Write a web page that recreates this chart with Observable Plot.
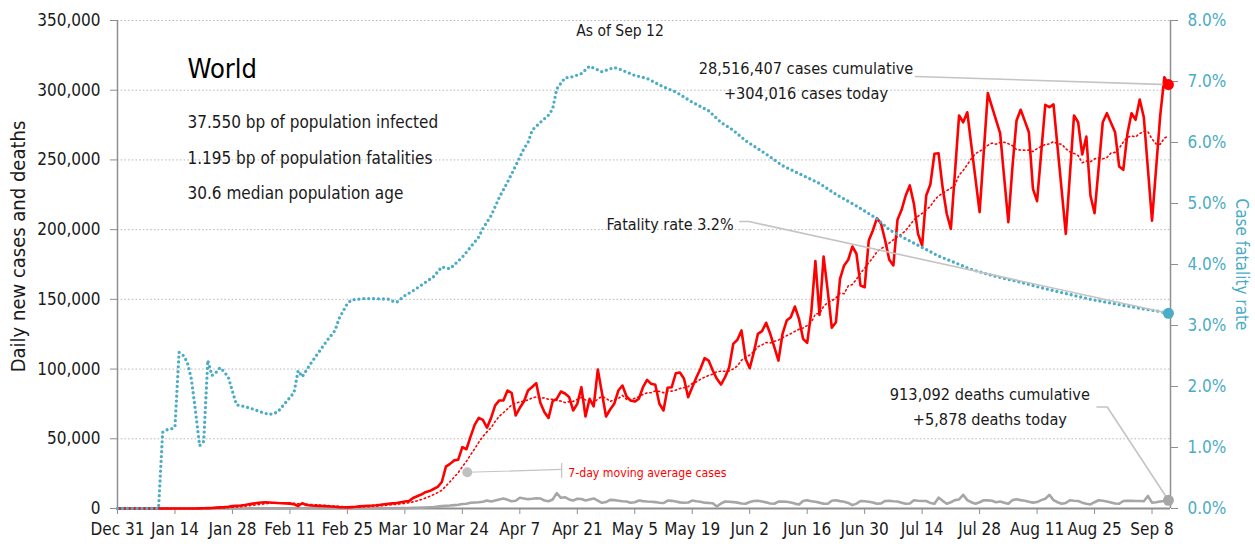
<!DOCTYPE html>
<html><head><meta charset="utf-8">
<script src="https://cdn.jsdelivr.net/npm/d3@7"></script>
<script src="https://cdn.jsdelivr.net/npm/@observablehq/plot@0.6"></script>
<style>
body{margin:0;background:#fff;}
#chart svg{display:block;font-family:"DejaVu Sans Condensed","DejaVu Sans",sans-serif;font-stretch:condensed;}
</style></head><body><div id="chart"></div>
<script>
// ---- data (day 0 = 2019-12-31) ----
const startDate = "2019-12-31";
const dailyCases = [
  0,0,0,0,0,0,0,0,0,0,                                        // d0-9
  0,0,0,0,0,0,0,0,0,50,                                       // d10-19
  80,150,270,400,600,800,1000,1300,1700,2000,                 // d20-29
  2200,2500,3000,3500,3900,4300,4500,4300,4100,3900,          // d30-39
  3800,3700,3500,3000,1800,3800,2500,2200,2000,1900,          // d40-49
  1800,1600,1400,1200,1000,900,800,1000,1200,1500,            // d50-59
  1800,2000,2100,2300,2600,3000,3400,3700,4000,4500,          // d60-69
  5000,5300,7500,8800,10000,11700,12500,14000,15500,19000,    // d70-79
  30000,32000,34500,35000,44000,42500,51600,60000,65000,63500,// d80-89
  58000,65000,74000,77500,77500,84600,83000,66700,72200,76700,// d90-99
  84600,87200,89900,75800,69100,65000,77000,78700,83900,82500,// d100-109
  80000,70300,75000,87000,66000,78700,73200,99700,83000,66000,// d110-119
  71000,75100,84600,88200,80300,77500,76700,78700,87000,92300,// d120-129
  89400,88700,75100,70300,86600,87000,97000,97500,93000,79800,// d130-139
  87000,94000,100200,107800,106100,99000,93000,88900,94200,101300, // d140-149
  118100,121000,127700,107400,100600,112100,125300,127200,133200,125300, // d150-159
  115700,106100,125300,134800,137200,144900,136000,121700,118800,140800, // d160-169
  177400,138900,180700,156300,129600,133600,164700,174300,178400,187900, // d170-179
  182700,159900,158700,192200,199400,208200,204200,192200,178400,174300, // d180-189
  207100,214200,224500,231700,218500,197000,188600,224500,232400,254400, // d190-199
  254800,230000,211400,200600,241000,281900,277000,284200,260300,236400, // d200-209
  212500,255000,297900,288300,278700,269200,237000,205300,245000,278300, // d210-219
  286000,278000,269900,229300,220400,255000,289500,287800,289800,258900, // d220-229
  227900,197000,239500,281900,277000,253900,266800,224500,211800,244400, // d230-239
  277000,283500,276700,269900,245300,242900,268700,283500,278800,293300, // d240-249
  280600,243500,206500,244200,281900,309300,304016                        // d250-256
];
const dailyDeaths = [
  0,0,0,0,0,0,0,0,0,0,
  0,0,0,0,0,0,0,0,0,0,
  0,3,8,16,15,24,26,26,38,43,
  46,45,57,64,66,73,73,86,89,97,
  108,97,146,121,143,142,105,98,139,115,
  118,109,97,150,71,52,29,44,37,35,
  58,68,80,100,100,120,200,230,270,300,
  350,390,450,550,600,700,950,1100,1350,1700,
  1900,2100,2400,2700,3200,3400,4100,4300,4500,4800,
  5700,5000,5700,6500,7200,6200,5200,5500,7700,7200,
  6700,7000,7400,7200,5700,5200,6500,11000,7700,8100,
  6500,5700,7000,6800,5700,6500,7200,5700,4100,4600,
  6200,6000,5600,5200,5000,4100,4500,5700,5300,5000,
  4800,4600,4100,3900,5700,5500,5000,4400,4100,4300,
  5700,5200,4800,4100,4000,3800,1400,3600,5000,4800,
  4600,4200,3600,3400,4700,5400,5500,5000,4400,3600,
  3400,4900,5000,4800,4300,3500,2900,5400,5900,5200,
  4800,4200,3500,3400,5600,5900,5300,4800,4000,2400,
  3500,5400,5200,4800,4300,3400,3700,5400,5500,5200,
  5000,4200,3400,3600,5900,5600,5400,5400,4000,3400,
  7800,5500,3400,4500,6000,6500,9800,6000,4500,3400,
  4500,5900,5800,5500,4500,5000,4200,3400,6000,6600,
  6000,5500,4800,4200,4600,6000,7000,9800,6000,4500,
  3400,4000,5900,5600,5400,4200,3400,2900,4500,5900,
  5600,5000,4300,3600,3400,5400,5600,5500,5400,5400,
  5200,9000,4200,4500,5000,5400,5878
];
// case fatality rate (%), read at these day offsets
const cfrDays = [0,10,11,12,13,14,15,16,17,18,19,20,21,22,23,24,25,26,27,28,29,31,33,35,37,39,41,43,44,45,47,49,51,53,54,56,57,60,63,66,67,68,70,72,74,77,79,81,84,88,89,91,93,95,97,99,100,101,103,105,106,107,109,111,113,115,118,121,122,126,129,133,136,140,144,147,150,153,158,162,166,171,175,180,185,188,192,196,200,204,208,212,216,220,225,230,237,245,250,253,256];
const cfrPct = [0,0,1.25,1.29,1.30,1.34,2.56,2.51,2.40,2.12,1.60,1.03,1.10,2.43,2.18,2.23,2.31,2.24,2.15,1.92,1.70,1.67,1.63,1.58,1.54,1.58,1.74,1.90,2.26,2.16,2.37,2.56,2.75,2.92,3.12,3.36,3.42,3.44,3.44,3.43,3.40,3.38,3.49,3.57,3.66,3.80,3.96,3.93,4.12,4.45,4.59,4.80,5.10,5.35,5.62,5.90,6.00,6.20,6.33,6.45,6.55,6.88,7.06,7.08,7.13,7.25,7.16,7.23,7.21,7.10,7.05,6.91,6.83,6.66,6.52,6.33,6.20,6.03,5.81,5.62,5.49,5.33,5.15,4.96,4.75,4.57,4.42,4.28,4.14,4.03,3.92,3.84,3.77,3.71,3.62,3.54,3.43,3.33,3.27,3.24,3.20];
const yTicks = [0,50000,100000,150000,200000,250000,300000,350000];
const pctTicks = [0,1,2,3,4,5,6,7,8];
const xTickDays = [0,14,28,42,56,70,84,98,112,126,140,154,168,182,196,210,224,238,252];
const title = "World";
const statsLines = ["37.550 bp of population infected","1.195 bp of population fatalities","30.6 median population age"];
const asOf = "As of Sep 12";
const casesNote = ["28,516,407 cases cumulative","+304,016 cases today"];
const deathsNote = ["913,092 deaths cumulative","+5,878 deaths today"];
const fatalityNote = "Fatality rate 3.2%";
const avgNote = "7-day moving average cases";

// ---- build ----
const t0 = new Date(startDate + "T00:00:00Z");
const day = n => new Date(t0.getTime() + n * 864e5);
const yMax = 350000, pctMax = 8, k = yMax / pctMax;
const days = dailyCases.map((c, i) => ({date: day(i), cases: c, deaths: dailyDeaths[i]}));
const cfr = cfrDays.map((d, i) => ({date: day(d), v: cfrPct[i] * k}));
const last = days[days.length - 1];
const lastCfr = cfr[cfr.length - 1];
const xEnd = day(256.5);
const RED = "#ff0000", TEAL = "#4bacc6", GREY = "#a6a6a6", AXIS = "#8f8f8f", LEAD = "#c4c4c4";
const FONT = '"DejaVu Sans Condensed","DejaVu Sans",sans-serif';

const chart = Plot.plot({
  width: 1255, height: 546,
  marginLeft: 117, marginRight: 85, marginTop: 20, marginBottom: 38,
  style: {fontFamily: FONT, fontSize: "17px", color: "#1a1a1a", background: "#fff"},
  x: {type: "utc", domain: [t0, xEnd]},
  y: {domain: [0, yMax]},
  marks: [
    Plot.gridY(yTicks.filter(v => v > 0), {stroke: "#b5b5b5", strokeOpacity: 1, strokeDasharray: "1.5,2.2", strokeWidth: 1}),
    Plot.axisY(yTicks, {anchor: "left", tickFormat: d3.format(","), tickSize: 7, tickPadding: 10, stroke: AXIS, fill: "#1a1a1a", fontSize: 17, label: null}),
    Plot.axisY(pctTicks.map(p => p * k), {anchor: "right", tickFormat: v => (v / k).toFixed(1) + "%", tickSize: 7, tickPadding: 10, stroke: AXIS, fill: TEAL, fontSize: 17, label: null}),
    Plot.axisX(xTickDays.map(day), {tickFormat: d3.utcFormat("%b %-d"), tickSize: 6, tickPadding: 8, stroke: AXIS, fill: "#1a1a1a", fontSize: 17, label: null}),
    Plot.ruleX([t0, xEnd], {stroke: AXIS, strokeWidth: 1.5}),
    Plot.ruleY([0], {stroke: AXIS, strokeWidth: 2}),
    // vertical axis titles
    Plot.text(["Daily new cases and deaths"], {frameAnchor: "left", textAnchor: "middle", dx: -99, dy: -18, rotate: -90, fontSize: 20, fill: "#1a1a1a"}),
    Plot.text(["Case fatality rate"], {frameAnchor: "right", textAnchor: "middle", dx: 71, rotate: 90, fontSize: 17, fill: TEAL}),
    // series
    Plot.line(days, {x: "date", y: "deaths", stroke: GREY, strokeWidth: 2.6}),
    Plot.line(days, {x: "date", y: "cases", stroke: RED, strokeWidth: 2.6}),
    Plot.lineY(days, Plot.windowY({k: 7, anchor: "end", reduce: "mean"}, {x: "date", y: "cases", stroke: RED, strokeWidth: 1.6, strokeDasharray: "1.4,3"})),
    Plot.line(cfr, {x: "date", y: "v", stroke: TEAL, strokeWidth: 3.3, strokeDasharray: "0,4.9", strokeLinecap: "round"}),
    // leaders
    Plot.line([{x: day(194.4), y: 309800}, {x: last.date, y: last.cases}], {x: "x", y: "y", stroke: LEAD, strokeWidth: 1.6}),
    Plot.line([{x: day(151.6), y: 205800}, {x: day(153.8), y: 205800}, {x: lastCfr.date, y: lastCfr.v}], {x: "x", y: "y", stroke: LEAD, strokeWidth: 1.6}),
    Plot.line([{x: day(238.6), y: 72800}, {x: day(241.1), y: 72800}, {x: last.date, y: last.deaths}], {x: "x", y: "y", stroke: LEAD, strokeWidth: 1.6}),
    Plot.line([{x: day(85.2), y: 26000}, {x: day(108.2), y: 28000}], {x: "x", y: "y", stroke: LEAD, strokeWidth: 1.2}),
    Plot.ruleX([day(108.2)], {y1: 21500, y2: 32300, stroke: LEAD, strokeWidth: 1.2}),
    Plot.dot([{x: day(85.2), y: 26000}], {x: "x", y: "y", r: 5, fill: "#c0c0c0"}),
    // end dots
    Plot.dot([last], {x: "date", y: "cases", r: 5.5, fill: RED}),
    Plot.dot([lastCfr], {x: "date", y: "v", r: 5.5, fill: TEAL}),
    Plot.dot([last], {x: "date", y: "deaths", r: 5.5, fill: "#a6a6a6"}),
    // texts
    Plot.text([title], {x: day(17.05), y: 314600, textAnchor: "start", fontSize: 27, fill: "#000", fontWeight: 500}),
    Plot.text([statsLines.join("\n")], {x: day(17.05), y: 291000, textAnchor: "start", lineAnchor: "top", lineHeight: 2.1, fontSize: 17, fill: "#1a1a1a"}),
    Plot.text([asOf], {x: day(122.4), y: 342800, fontSize: 15.5, fill: "#1a1a1a"}),
    Plot.text([casesNote.join("\n")], {x: day(167.7), y: 308500, fontSize: 16.2, lineHeight: 1.54, fill: "#1a1a1a"}),
    Plot.text([fatalityNote], {x: day(150.1), y: 203500, textAnchor: "end", fontSize: 16, fill: "#1a1a1a"}),
    Plot.text([deathsNote.join("\n")], {x: day(212.5), y: 74500, fontSize: 16.2, lineHeight: 1.54, fill: "#1a1a1a"}),
    Plot.text([avgNote], {x: day(109.8), y: 25700, textAnchor: "start", fontSize: 12.2, fill: RED})
  ]
});
document.getElementById("chart").append(chart);
</script></body></html>
